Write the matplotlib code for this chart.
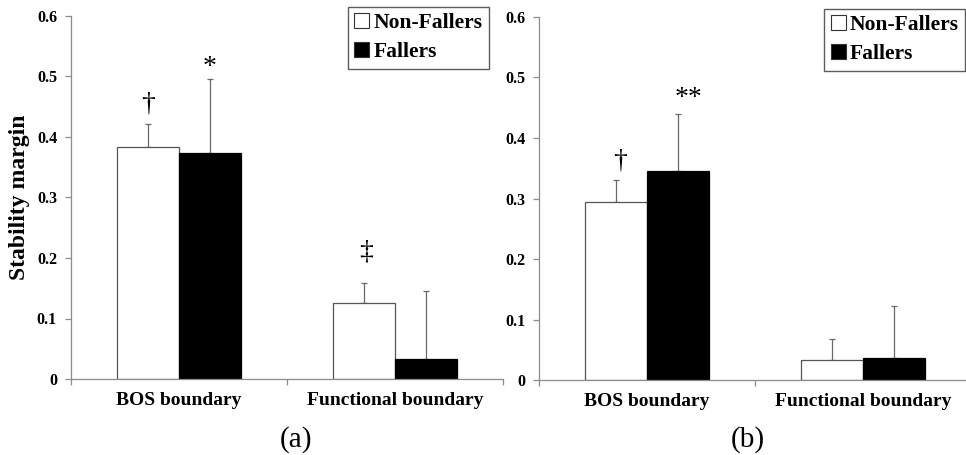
import matplotlib
matplotlib.use("Agg")
from matplotlib import pyplot as plt
import numpy as np

plt.rcParams["font.family"] = ["Liberation Serif", "DejaVu Serif"]

categories = ["BOS boundary", "Functional boundary"]
groups = ["Non-Fallers", "Fallers"]

# panel (a)
a_nonfallers = [0.383, 0.126]
a_nonfallers_err = [0.038, 0.033]
a_fallers = [0.373, 0.033]
a_fallers_err = [0.123, 0.112]

# panel (b)
b_nonfallers = [0.294, 0.033]
b_nonfallers_err = [0.036, 0.036]
b_fallers = [0.345, 0.037]
b_fallers_err = [0.094, 0.086]

# significance marks: (group index, category index, label, y, x offset)
a_marks = [(0, 0, "†", 0.455, 0.0), (1, 0, "*", 0.515, 0.0), (0, 1, "‡", 0.21, 0.01)]
b_marks = [(0, 0, "†", 0.362, 0.02), (1, 0, "**", 0.465, 0.05)]

bar_w = 0.287
edge = "#555555"
spine = "#8c8c8c"


def draw_panel(ax, nf, nf_err, f, f_err, marks):
    x = np.arange(len(categories))
    offs = [-bar_w / 2, bar_w / 2]
    ax.bar(x + offs[0], nf, bar_w, color="white", edgecolor=edge, linewidth=0.9,
           label=groups[0], zorder=2)
    ax.bar(x + offs[1], f, bar_w, color="black", edgecolor="black", linewidth=0.9,
           label=groups[1], zorder=2)
    ax.errorbar(x + offs[0], nf, yerr=[np.zeros(len(nf)), nf_err], fmt="none",
                ecolor="#6a6a6a", elinewidth=0.9, capsize=2.5, capthick=0.9, zorder=1)
    ax.errorbar(x + offs[1], f, yerr=[np.zeros(len(f)), f_err], fmt="none",
                ecolor="#6a6a6a", elinewidth=0.9, capsize=2.5, capthick=0.9, zorder=1)
    for g, c, lab, y, dx in marks:
        ax.text(c + offs[g] + dx, y, lab, ha="center", va="center", fontsize=20)

    ax.set_xlim(-0.5, 1.5)
    ax.set_ylim(0, 0.6)
    ax.set_yticks([0, 0.1, 0.2, 0.3, 0.4, 0.5, 0.6])
    ax.set_yticklabels(["0", "0.1", "0.2", "0.3", "0.4", "0.5", "0.6"],
                       fontsize=11.5, fontweight="bold")
    ax.set_xticks([-0.5, 0.5, 1.5])
    ax.set_xticklabels([])
    ax.set_xticks(x, minor=True)
    ax.set_xticklabels(categories, minor=True, fontsize=14, fontweight="bold")
    ax.tick_params(axis="x", which="minor", length=0, pad=9)
    ax.tick_params(axis="x", which="major", length=4, color=spine, width=0.9)
    ax.tick_params(axis="y", length=4, color=spine, width=0.9, pad=6)
    for s in ["top", "right"]:
        ax.spines[s].set_visible(False)
    for s in ["left", "bottom"]:
        ax.spines[s].set_color(spine)
        ax.spines[s].set_linewidth(0.9)


def add_legend(ax, anchor):
    leg = ax.legend(loc="upper left", bbox_to_anchor=anchor, frameon=True, fancybox=False,
                    prop={"size": 15.5, "weight": "bold"}, handlelength=0.7, handleheight=0.7,
                    handletextpad=0.2, labelspacing=0.4, borderpad=0.3, borderaxespad=0)
    leg.get_frame().set_edgecolor("#333333")
    leg.get_frame().set_linewidth(1.0)
    for h in leg.legend_handles:
        h.set_edgecolor("#333333")
        h.set_linewidth(0.8)


def main():
    fig = plt.figure(figsize=(9.66, 4.55), dpi=100)
    ax_a = fig.add_axes([0.0735, 0.167, 0.4472, 0.798])
    ax_b = fig.add_axes([0.558, 0.164, 0.4472, 0.799])

    draw_panel(ax_a, a_nonfallers, a_nonfallers_err, a_fallers, a_fallers_err, a_marks)
    draw_panel(ax_b, b_nonfallers, b_nonfallers_err, b_fallers, b_fallers_err, b_marks)

    ax_a.set_ylabel("Stability margin", fontsize=17, fontweight="bold", labelpad=5)

    add_legend(ax_a, (0.641, 1.025))
    add_legend(ax_b, (0.66, 1.022))

    fig.text(0.306, 0.033, "(a)", ha="center", va="center", fontsize=21)
    fig.text(0.774, 0.033, "(b)", ha="center", va="center", fontsize=21)

    fig.savefig("out.png", dpi=100)


if __name__ == "__main__":
    main()
